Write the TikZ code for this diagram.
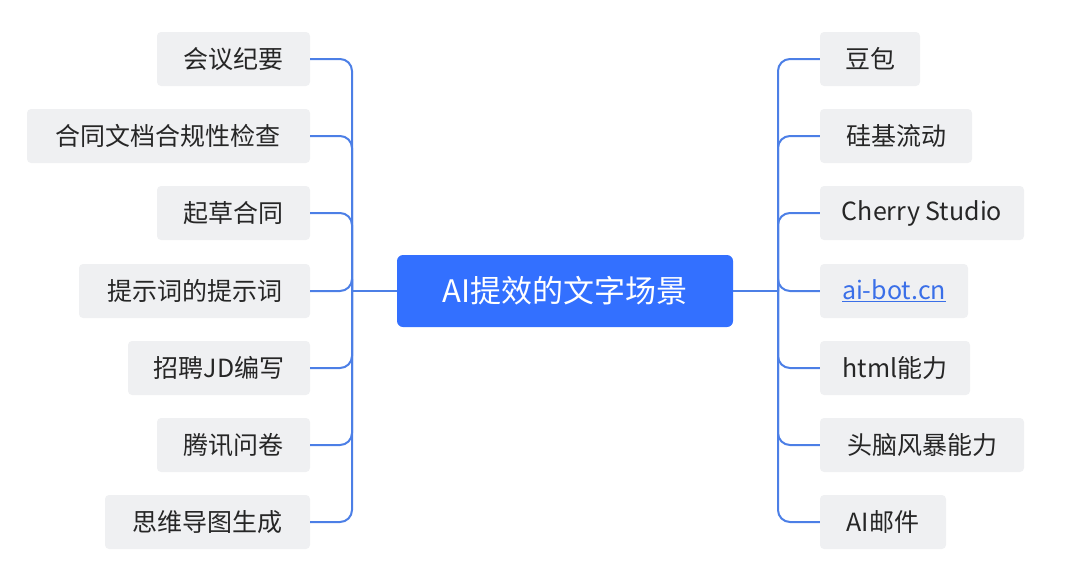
\documentclass[tikz,border=0pt]{standalone}
\usepackage{fontspec}
\setmainfont{Noto Sans CJK SC}
\usetikzlibrary{calc}
\definecolor{mainblue}{HTML}{3370FF}
\definecolor{linkblue}{HTML}{3A6FE8}
\definecolor{leafgray}{HTML}{EFF0F2}
\definecolor{wire}{HTML}{4C7FE6}
\tikzset{
	leaf/.style={fill=leafgray, rounded corners=4pt, minimum height=54pt, inner sep=0pt,
		font=\fontsize{25}{30}\selectfont, text=black!85},
	root/.style={fill=mainblue, rounded corners=6pt, minimum width=336pt, minimum height=72pt,
		text=white, font=\fontsize{31}{36}\selectfont},
	wirestyle/.style={wire, line width=2pt, rounded corners=12pt}
}
\begin{document}
\begin{tikzpicture}[x=1pt,y=-1pt]
	\useasboundingbox (0,0) rectangle (1080,573);

	\node[root] (root) at (565,291) {AI提效的文字场景};
	\coordinate (lhub) at (352,291);
	\coordinate (rhub) at (778,291);

	% left branch
	\foreach \i/\y/\xl/\txt in {1/59/157/会议纪要, 2/136/27/合同文档合规性检查, 3/213/157/起草合同,
		4/291/79/提示词的提示词, 5/368/128/招聘JD编写, 6/445/157/腾讯问卷, 7/522/105/思维导图生成} {
		\node[leaf, minimum width={310-\xl}] (l\i) at ({(310+\xl)/2},\y) {\txt};
		\draw[wirestyle] (l\i.east) -| (lhub);
	}
	\draw[wirestyle] (lhub) -- (root.west);

	% right branch
	\foreach \i/\y/\xr/\txt in {1/59/920/豆包, 2/136/972/硅基流动, 3/213/1024/Cherry Studio,
		4/291/968/{\textcolor{linkblue}{\underline{ai-bot.cn}}}, 5/368/970/html能力, 6/445/1024/头脑风暴能力, 7/522/946/AI邮件} {
		\node[leaf, minimum width={\xr-820}] (r\i) at ({(820+\xr)/2},\y) {\txt};
		\draw[wirestyle] (r\i.west) -| (rhub);
	}
	\draw[wirestyle] (rhub) -- (root.east);
\end{tikzpicture}
\end{document}
